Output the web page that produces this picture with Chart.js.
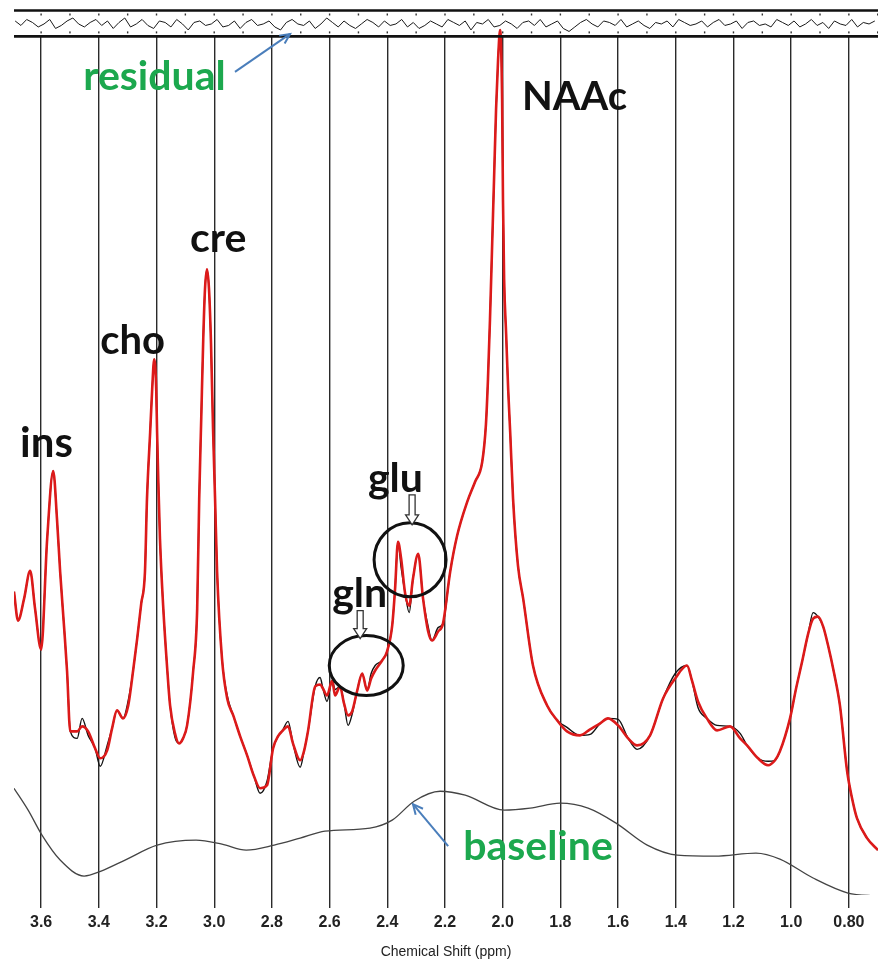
<!DOCTYPE html>
<html lang="en">
<head>
<meta charset="UTF-8">
<title>MRS spectrum fit</title>
<script src="https://cdn.jsdelivr.net/npm/chart.js"></script>
<style>
  html, body { margin: 0; padding: 0; background: #fff; }
</style>
</head>
<body>
<canvas id="spec" width="878" height="959"></canvas>
<script>
// x axis ticks (ppm)
const tickVals = [3.6, 3.4, 3.2, 3.0, 2.8, 2.6, 2.4, 2.2, 2.0, 1.8, 1.6, 1.4, 1.2, 1.0, 0.8];

// fitted spectrum (red) and measured spectrum (black), intensity in a.u.
const fitPpm = [
  3.694, 3.680, 3.659, 3.638, 3.621, 3.600, 3.579, 3.558, 3.545, 3.534,
  3.520, 3.510, 3.499, 3.475, 3.458, 3.437, 3.413, 3.395, 3.371, 3.354,
  3.337, 3.316, 3.298, 3.281, 3.267, 3.253, 3.240, 3.233, 3.222, 3.215,
  3.208, 3.201, 3.198, 3.194, 3.188, 3.177, 3.163, 3.153, 3.136, 3.122,
  3.108, 3.094, 3.073, 3.059, 3.052, 3.045, 3.038, 3.032, 3.025, 3.018,
  3.011, 3.004, 2.997, 2.990, 2.973, 2.955, 2.934, 2.910, 2.886, 2.862,
  2.841, 2.817, 2.796, 2.779, 2.765, 2.744, 2.727, 2.702, 2.688, 2.675,
  2.650, 2.633, 2.623, 2.609, 2.591, 2.581, 2.564, 2.550, 2.536, 2.522,
  2.505, 2.487, 2.470, 2.456, 2.442, 2.418, 2.401, 2.383, 2.373, 2.363,
  2.352, 2.338, 2.324, 2.311, 2.293, 2.276, 2.259, 2.245, 2.224, 2.207,
  2.182, 2.158, 2.123, 2.096,
  2.071, 2.058, 2.051, 2.044, 2.037, 2.030, 2.023, 2.016, 2.009, 2.002,
  1.999, 1.995, 1.988, 1.981, 1.974, 1.964, 1.947, 1.929,
  1.895, 1.846, 1.811, 1.777, 1.732, 1.697, 1.662, 1.635, 1.600, 1.565,
  1.534, 1.489, 1.444, 1.402, 1.361, 1.344, 1.323, 1.292, 1.257, 1.212,
  1.177, 1.153, 1.115, 1.080, 1.056, 1.039, 1.004, 0.983, 0.962, 0.941,
  0.924, 0.907, 0.889, 0.872, 0.851, 0.831, 0.806, 0.789, 0.772, 0.737,
  0.699
];
const fitCurve = [
  305, 276, 298, 326, 288, 247, 358, 426, 378, 325,
  268, 225, 165, 165, 170, 165, 148, 138, 146, 168,
  186, 178, 191, 226, 258, 293, 325, 398, 465, 508,
  538, 508, 465, 418, 358, 291, 228, 191, 163, 153,
  158, 171, 225, 288, 398, 478, 558, 608, 628, 608,
  553, 468, 398, 325, 238, 198, 181, 160, 141, 120,
  108, 111, 148, 160, 165, 170, 153, 136, 146, 165,
  210, 212, 208, 201, 216, 201, 210, 193, 181, 185,
  205, 223, 206, 218, 226, 236, 245, 271, 308, 355,
  338, 303, 291, 318, 343, 298, 266, 256, 265, 273,
  325, 361, 395, 415,
  435, 473, 518, 578, 648, 718, 788, 838, 868, 798,
  698, 618, 563, 508, 465, 398, 331, 298,
  231, 191, 176, 165, 161, 167, 173, 178, 171, 158,
  151, 161, 198, 218, 231, 216, 195, 178, 166, 170,
  158, 151, 138, 131, 136, 145, 178, 208, 235, 263,
  278, 280, 270, 251, 223, 191, 125, 98, 78, 58,
  46
];
const rawCurve = [
  305, 276, 298, 326, 288, 247, 358, 426, 378, 325,
  268, 225, 165, 158, 178, 161, 148, 130, 151, 168,
  186, 178, 196, 226, 258, 293, 325, 398, 465, 508,
  538, 508, 465, 418, 358, 291, 228, 191, 159, 153,
  158, 171, 225, 288, 398, 478, 558, 608, 628, 608,
  553, 468, 398, 325, 238, 201, 181, 160, 141, 120,
  103, 115, 148, 160, 165, 175, 153, 129, 146, 165,
  210, 219, 208, 195, 216, 207, 210, 193, 171, 182,
  205, 223, 206, 223, 231, 236, 245, 271, 308, 355,
  329, 303, 284, 318, 343, 298, 271, 256, 269, 273,
  325, 361, 395, 415,
  435, 473, 518, 578, 648, 718, 788, 838, 868, 798,
  698, 618, 563, 508, 465, 398, 331, 298,
  231, 191, 176, 169, 161, 162, 173, 178, 177, 158,
  147, 161, 198, 223, 231, 216, 189, 178, 171, 170,
  163, 151, 138, 135, 136, 145, 178, 208, 235, 263,
  284, 280, 270, 251, 223, 191, 125, 98, 78, 58,
  46
];

// fitted baseline
const basePpm = [3.694, 3.645, 3.597, 3.534, 3.451, 3.392, 3.309, 3.198, 3.063, 2.973,
  2.889, 2.792, 2.702, 2.616, 2.460, 2.383, 2.307, 2.217, 2.130, 1.995,
  1.905, 1.801, 1.704, 1.607, 1.499, 1.395, 1.264, 1.122, 1.039, 0.924, 0.803, 0.699];
const baseCurve = [108, 86, 61, 36, 20, 25, 36, 51, 56, 52,
  46, 51, 58, 65, 68, 76, 95, 105, 101, 86,
  88, 93, 88, 73, 51, 41, 40, 43, 37, 18, 3, 0];

// residual (data - fit)
const residPpm = [
  3.69, 3.67, 3.65, 3.63, 3.61, 3.59, 3.57, 3.55, 3.53, 3.51,
  3.49, 3.47, 3.45, 3.43, 3.41, 3.39, 3.37, 3.35, 3.33, 3.31,
  3.29, 3.27, 3.25, 3.23, 3.21, 3.19, 3.17, 3.15, 3.13, 3.11,
  3.09, 3.07, 3.05, 3.03, 3.01, 2.99, 2.97, 2.95, 2.93, 2.91,
  2.89, 2.87, 2.85, 2.83, 2.81, 2.79, 2.77, 2.75, 2.73, 2.71,
  2.69, 2.67, 2.65, 2.63, 2.61, 2.59, 2.57, 2.55, 2.53, 2.51,
  2.49, 2.47, 2.45, 2.43, 2.41, 2.39, 2.37, 2.35, 2.33, 2.31,
  2.29, 2.27, 2.25, 2.23, 2.21, 2.19, 2.17, 2.15, 2.13, 2.11,
  2.09, 2.07, 2.05, 2.03, 2.01, 1.99, 1.97, 1.95, 1.93, 1.91,
  1.89, 1.87, 1.85, 1.83, 1.81, 1.79, 1.77, 1.75, 1.73, 1.71,
  1.69, 1.67, 1.65, 1.63, 1.61, 1.59, 1.57, 1.55, 1.53, 1.51,
  1.49, 1.47, 1.45, 1.43, 1.41, 1.39, 1.37, 1.35, 1.33, 1.31,
  1.29, 1.27, 1.25, 1.23, 1.21, 1.19, 1.17, 1.15, 1.13, 1.11,
  1.09, 1.07, 1.05, 1.03, 1.01, 0.99, 0.97, 0.95, 0.93, 0.91,
  0.89, 0.87, 0.85, 0.83, 0.81, 0.79, 0.77, 0.75, 0.73, 0.71
];
const residCurve = [
  2, -1, 3, 1, -2, 0, 3, -3, -1, 2,
  4, 0, -2, 1, 3, -1, 2, -3, 1, 4,
  -2, 0, 3, -1, -3, 2, 1, -2, 3, 0,
  -4, 1, 2, -1, 0, 3, -2, -1, 2, -3,
  1, 3, -1, 0, 2, -2, -4, 1, 3, 0,
  -1, 2, -3, 0, 4, 1, -2, 2, -1, -3,
  0, 3, 1, -2, 2, -1, 0, 3, -2, 1,
  -3, -1, 2, 0, -2, 3, 1, -1, 2, -4,
  1, 0, 3, -2, -1, 2, 0, -3, 1, 2,
  -1, 3, -2, 0, 2, -3, -5, -2, 1, 3,
  0, -2, 2, 1, -1, 3, -2, 0, 2, -1,
  -3, 1, 0, 2, -2, 3, 1, -1, 0, 2,
  -2, 1, 3, -1, 0, 2, -3, 1, 2, -1,
  0, -2, 3, 1, -1, 2, -2, 0, 3, -1,
  1, -3, 2, 0, -1, 3, -2, 1, 0, 2
];

// annotations, placed in data coordinates (ppm, a.u.)
const green = '#1ca84e';
const labels = [
  { text: 'residual', ppm: 3.454, val: 808, color: green, size: 41 },
  { text: 'NAAc', ppm: 1.933, val: 788, color: '#111', size: 40 },
  { text: 'cre', ppm: 3.084, val: 645, color: '#111', size: 41 },
  { text: 'cho', ppm: 3.395, val: 543, color: '#111', size: 40 },
  { text: 'ins', ppm: 3.673, val: 440, color: '#111', size: 42 },
  { text: 'glu', ppm: 2.467, val: 405, color: '#111', size: 41 },
  { text: 'gln', ppm: 2.591, val: 290, color: '#111', size: 41 },
  { text: 'baseline', ppm: 2.137, val: 36, color: green, size: 41 }
];
const pointers = [
  { from: [2.928, 826], to: [2.737, 864] },
  { from: [2.189, 50], to: [2.311, 92] }
];
const hollowArrows = [
  { ppm: 2.314, top: 402, bottom: 372 },
  { ppm: 2.494, top: 286, bottom: 258 }
];
const rings = [
  { ppm: 2.321, val: 337, rx: 36, ry: 37 },
  { ppm: 2.473, val: 231, rx: 37, ry: 30 }
];
// residual panel frame, in residual units
const residFrame = [9, -8.3];

const toXY = (xs, ys) => xs.map((p, i) => ({ x: p, y: ys[i] }));

function arrowLine(ctx, x1, y1, x2, y2) {
  ctx.beginPath(); ctx.moveTo(x1, y1); ctx.lineTo(x2, y2); ctx.stroke();
  const a = Math.atan2(y2 - y1, x2 - x1), h = 11;
  ctx.beginPath();
  ctx.moveTo(x2 - h * Math.cos(a - 0.45), y2 - h * Math.sin(a - 0.45));
  ctx.lineTo(x2, y2);
  ctx.lineTo(x2 - h * Math.cos(a + 0.45), y2 - h * Math.sin(a + 0.45));
  ctx.stroke();
}

function hollowDown(ctx, x, y1, y2) {
  const hl = 10, sw = 3, hw = 6.5;
  ctx.beginPath();
  ctx.moveTo(x - sw, y1); ctx.lineTo(x + sw, y1);
  ctx.lineTo(x + sw, y2 - hl); ctx.lineTo(x + hw, y2 - hl);
  ctx.lineTo(x, y2); ctx.lineTo(x - hw, y2 - hl);
  ctx.lineTo(x - sw, y2 - hl); ctx.closePath();
  ctx.fillStyle = '#fff'; ctx.fill();
  ctx.strokeStyle = '#333'; ctx.lineWidth = 1.3; ctx.stroke();
}

const overlay = {
  id: 'overlay',
  beforeDatasetsDraw(chart) {
    const { ctx, chartArea: a, scales: { x, yr } } = chart;
    const top = yr.getPixelForValue(residFrame[0]), bot = yr.getPixelForValue(residFrame[1]);
    ctx.save();
    ctx.fillStyle = '#fff';
    ctx.fillRect(a.left, a.top - 2, a.right - a.left, bot - a.top + 2);
    // small marks every 0.1 ppm inside the residual panel
    ctx.fillStyle = '#333';
    tickVals.forEach(v => {
      [v, v - 0.1].forEach(m => {
        const px = x.getPixelForValue(m);
        if (px < a.left || px > a.right) return;
        ctx.fillRect(px - 0.7, top + 3, 1.4, 2);
        ctx.fillRect(px - 0.7, bot - 5, 1.4, 2);
      });
    });
    ctx.restore();
  },
  afterDatasetsDraw(chart) {
    const { ctx, chartArea: a, scales: { x, y, yr } } = chart;
    ctx.save();
    // residual panel frame
    ctx.strokeStyle = '#111';
    ctx.lineWidth = 2.6;
    residFrame.forEach(v => {
      const py = yr.getPixelForValue(v);
      ctx.beginPath(); ctx.moveTo(a.left, py); ctx.lineTo(a.right, py); ctx.stroke();
    });
    // rings
    ctx.strokeStyle = '#111'; ctx.lineWidth = 3;
    rings.forEach(r => {
      ctx.beginPath();
      ctx.ellipse(x.getPixelForValue(r.ppm), y.getPixelForValue(r.val), r.rx, r.ry, 0, 0, Math.PI * 2);
      ctx.stroke();
    });
    hollowArrows.forEach(h => hollowDown(ctx, x.getPixelForValue(h.ppm), y.getPixelForValue(h.top), y.getPixelForValue(h.bottom)));
    // pointer arrows
    ctx.strokeStyle = '#4a7ebb'; ctx.lineWidth = 2;
    pointers.forEach(p => arrowLine(ctx,
      x.getPixelForValue(p.from[0]), y.getPixelForValue(p.from[1]),
      x.getPixelForValue(p.to[0]), y.getPixelForValue(p.to[1])));
    // labels
    ctx.textAlign = 'left'; ctx.textBaseline = 'alphabetic';
    labels.forEach(l => {
      ctx.font = `bold ${l.size}px Lato, "Open Sans", sans-serif`;
      ctx.fillStyle = l.color;
      ctx.fillText(l.text, x.getPixelForValue(l.ppm), y.getPixelForValue(l.val));
    });
    ctx.restore();
  }
};

new Chart(document.getElementById('spec'), {
  type: 'line',
  data: {
    datasets: [
      { label: 'fit', data: toXY(fitPpm, fitCurve), yAxisID: 'y', order: 0,
        borderColor: '#dc1a1a', borderWidth: 2.6, pointRadius: 0, cubicInterpolationMode: 'monotone' },
      { label: 'data', data: toXY(fitPpm, rawCurve), yAxisID: 'y', order: 1,
        borderColor: '#111', borderWidth: 1.4, pointRadius: 0, cubicInterpolationMode: 'monotone' },
      { label: 'baseline', data: toXY(basePpm, baseCurve), yAxisID: 'y', order: 2,
        borderColor: '#444', borderWidth: 1.3, pointRadius: 0, cubicInterpolationMode: 'monotone' },
      { label: 'residual', data: toXY(residPpm, residCurve), yAxisID: 'yr', order: 3,
        borderColor: '#1a1a1a', borderWidth: 1, pointRadius: 0, tension: 0 }
    ]
  },
  options: {
    responsive: false,
    animation: false,
    devicePixelRatio: 1,
    layout: { padding: { top: 10, left: 14, right: 0, bottom: 0 } },
    plugins: { legend: { display: false }, tooltip: { enabled: false } },
    scales: {
      x: {
        type: 'linear',
        reverse: true,
        min: 0.699,
        max: 3.694,
        afterBuildTicks: s => { s.ticks = tickVals.map(v => ({ value: v })); },
        grid: { color: '#2a2a2a', lineWidth: 1.4, tickLength: 13 },
        border: { display: false },
        ticks: {
          autoSkip: false, maxRotation: 0, padding: 5, color: '#222',
          font: { family: 'Liberation Sans, Arial', size: 16, weight: 'bold' },
          callback: v => (v === 0.8 ? '0.80' : v.toFixed(1))
        },
        title: {
          display: true, text: 'Chemical Shift (ppm)', color: '#222',
          font: { family: 'Liberation Sans, Arial', size: 14, lineHeight: 1.0 },
          padding: { top: 7.8, bottom: 0 }
        }
      },
      y: { display: false, min: 1, max: 888 },
      yr: { display: false, min: -581.7, max: 9.33 }
    }
  },
  plugins: [overlay]
});
</script>
</body>
</html>
